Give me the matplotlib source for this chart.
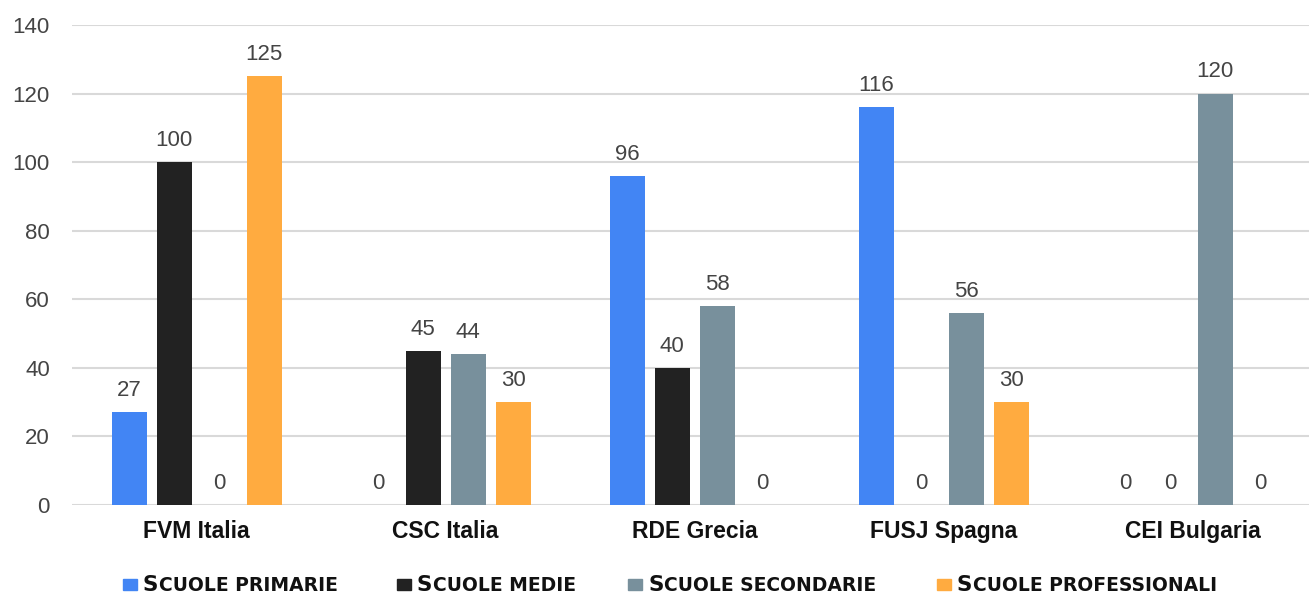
import numpy as np
import matplotlib.pyplot as plt
from matplotlib.patches import Rectangle

plt.rcParams['font.family'] = ['Liberation Sans', 'DejaVu Sans']

partners = ['FVM Italia', 'CSC Italia', 'RDE Grecia', 'FUSJ Spagna', 'CEI Bulgaria']
primarie = [27, 0, 96, 116, 0]
medie = [100, 45, 40, 0, 0]
secondarie = [0, 44, 58, 56, 120]
professionali = [125, 30, 0, 30, 0]

series = [primarie, medie, secondarie, professionali]
names = [('S', 'CUOLE PRIMARIE'), ('S', 'CUOLE MEDIE'),
         ('S', 'CUOLE SECONDARIE'), ('S', 'CUOLE PROFESSIONALI')]
colors = ['#4285F4', '#222222', '#78909C', '#FFAB40']

W, H = 1309, 596
fig = plt.figure(figsize=(W / 100, H / 100), dpi=100)
ax = fig.add_axes([72 / W, 1 - 505 / H, 1245 / W, 480 / H])

x = np.arange(len(partners))
step = 45 / 249
width = 35 / 249
for i, (vals, c) in enumerate(zip(series, colors)):
    bars = ax.bar(x + (i - 1.5) * step, vals, width, color=c, zorder=3)
    ax.bar_label(bars, padding=8, fontsize=16, color='#444444')

ax.set_xlim(-0.5, 4.5)
ax.set_ylim(0, 140)
ax.set_yticks(np.arange(0, 141, 20))
ax.yaxis.grid(True, color='#d9d9d9', linewidth=1.5, zorder=0)
ax.set_axisbelow(True)
for s in ax.spines.values():
    s.set_visible(False)
ax.tick_params(axis='y', length=0, pad=16, labelsize=16, labelcolor='#444444')
ax.tick_params(axis='x', length=0, pad=11, labelsize=16.5)
ax.set_xticks(x)
ax.set_xticklabels(partners, fontweight='bold', color='#111111')

# legend, drawn by hand to get the small caps look
sq_x = [123, 397, 628, 937]
y_base = 1 - 591 / H
for (big, small), c, sx in zip(names, colors, sq_x):
    fig.patches.append(Rectangle((sx / W, 1 - 590 / H), 14 / W, 11 / H,
                                 transform=fig.transFigure, color=c))
    t = fig.text((sx + 20) / W, y_base, big, fontsize=15.5, fontweight='bold',
                 family='DejaVu Sans', color='#111111', va='baseline')
    ax.annotate(small, xy=(1, y_base), xycoords=(t, 'figure fraction'),
                xytext=(0.5, 0), textcoords='offset points',
                fontsize=13.5, fontweight='bold', family='DejaVu Sans',
                color='#111111', va='baseline', ha='left', annotation_clip=False)

fig.savefig('out.png', dpi=100)
